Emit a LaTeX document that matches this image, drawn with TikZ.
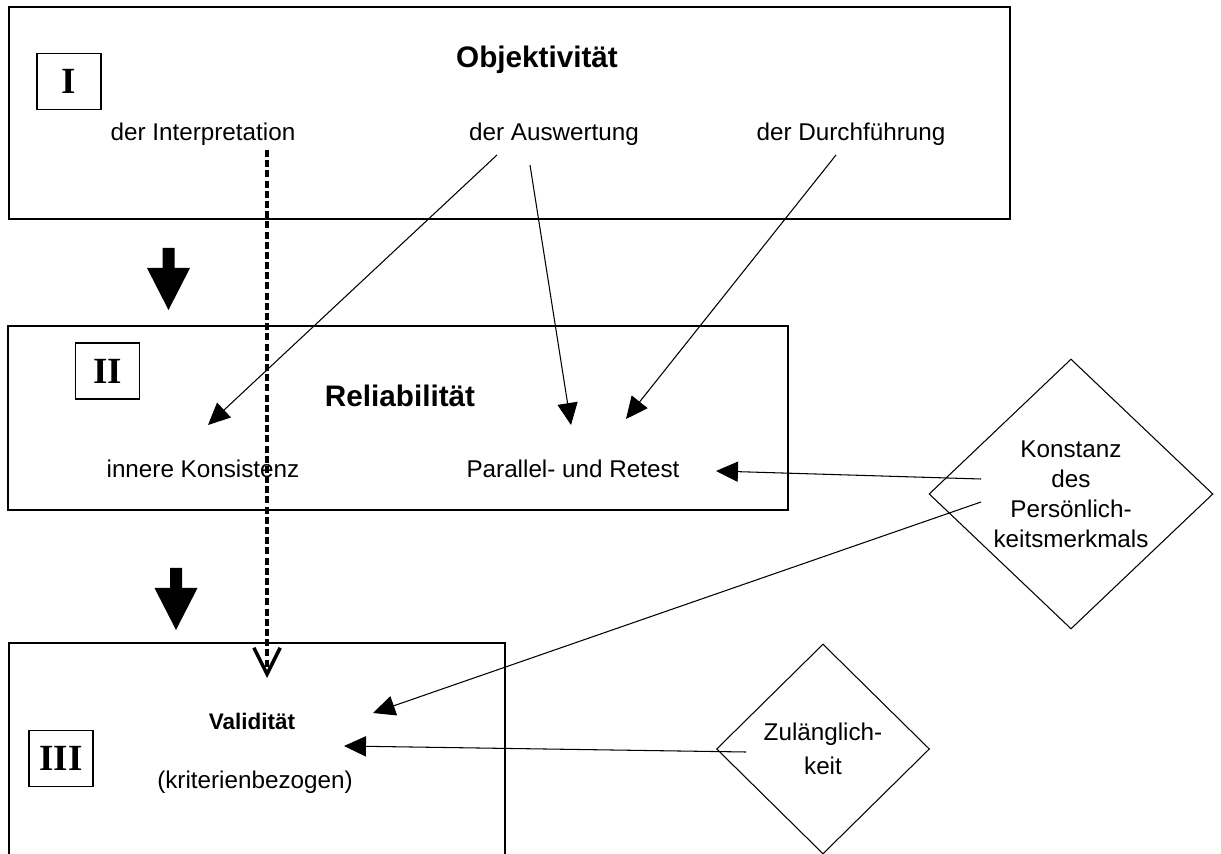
\documentclass[tikz,border=0pt]{standalone}
\usepackage{fontspec}
\usepackage{tikz}
\usetikzlibrary{arrows.meta,shapes.geometric}
\setmainfont{Liberation Sans}
\newfontfamily\romfont{Liberation Serif}

\tikzset{
txt/.style={anchor=base,font=\fontsize{13.8}{16.5}\selectfont},
titel/.style={anchor=base,font=\fontsize{16.9}{20}\selectfont\bfseries},
nrbox/.style={draw,line width=0.7pt,minimum width=1.28cm,minimum height=1.12cm,inner sep=0pt,font=\romfont\bfseries\fontsize{21}{24}\selectfont},
raute/.style={diamond,draw,line width=0.6pt,inner sep=0pt,align=center},
pfeil/.style={line width=0.6pt,-{Triangle[length=12.5pt,width=11.5pt]}},
block/.style={line width=0.8pt},
}

\begin{document}
\begin{tikzpicture}[x=0.02cm,y=-0.02cm]
\useasboundingbox (0,0) rectangle (1221,854);
\clip (0,0) rectangle (1221,854);
\draw[block] (9,7) rectangle (1010,219);
\draw[block] (8,326) rectangle (788,510);
\draw[block] (9,643) rectangle (505,900);
\node[nrbox] (n1) at (69,81.5) {I};
\node[nrbox] (n2) at (107.5,371) {II};
\node[nrbox] (n3) at (61,758.5) {III};
\foreach \x/\y in {168.5/248,176/568}
\fill (\x-6,\y) -- (\x+6,\y) -- (\x+6,\y+20) -- (\x+21.5,\y+20) -- (\x,\y+62) -- (\x-21.5,\y+20) -- (\x-6,\y+20) -- cycle;
\node[titel] (obj) at (537,68) {Objektivität};
\node[txt] (interp) at (203,141) {der Interpretation};
\node[txt] (ausw) at (554,141) {der Auswertung};
\node[txt] (durch) at (851,141) {der Durchführung};
\node[titel] (rel) at (400,407) {Reliabilität};
\node[txt] (innere) at (203,478) {innere Konsistenz};
\node[txt] (retest) at (573,478) {Parallel- und Retest};
\node[anchor=base,font=\fontsize{12.8}{15}\selectfont\bfseries] (val) at (252,729) {Validität};
\node[txt] (krit) at (255,788) {(kriterienbezogen)};
\node[raute,minimum width=5.68cm,minimum height=5.4cm,font=\fontsize{13.8}{17}\selectfont] (konst) at (1071,494) {Konstanz\\des\\Persönlich-\\keitsmerkmals};
\node[raute,minimum width=4.26cm,minimum height=4.2cm,font=\fontsize{13.8}{19}\selectfont] (zul) at (823,749) {Zulänglich-\\keit};
\coordinate (a1) at (497,155);
\coordinate (a2) at (530,165);
\coordinate (d1) at (836,155);
\coordinate (i1) at (267,150);
\coordinate (k1) at (981,479);
\coordinate (k2) at (981,502);
\coordinate (z1) at (746,752);
\coordinate (ti) at (208,425);
\coordinate (tr1) at (571,425);
\coordinate (tr2) at (626,419);
\coordinate (tr3) at (716,471);
\coordinate (tv1) at (267,678);
\coordinate (tv2) at (373,713);
\coordinate (tv3) at (344,746);
\draw[pfeil] (a1) -- (ti);
\draw[pfeil] (a2) -- (tr1);
\draw[pfeil] (d1) -- (tr2);
\draw[pfeil] (k1) -- (tr3);
\draw[pfeil] (k2) -- (tv2);
\draw[pfeil] (z1) -- (tv3);
\draw[line width=2.3pt,dash pattern=on 4pt off 1.8pt,-{Straight Barb[length=15pt,width=15pt,line width=2pt]}] (i1) -- (tv1);
\end{tikzpicture}
\end{document}
